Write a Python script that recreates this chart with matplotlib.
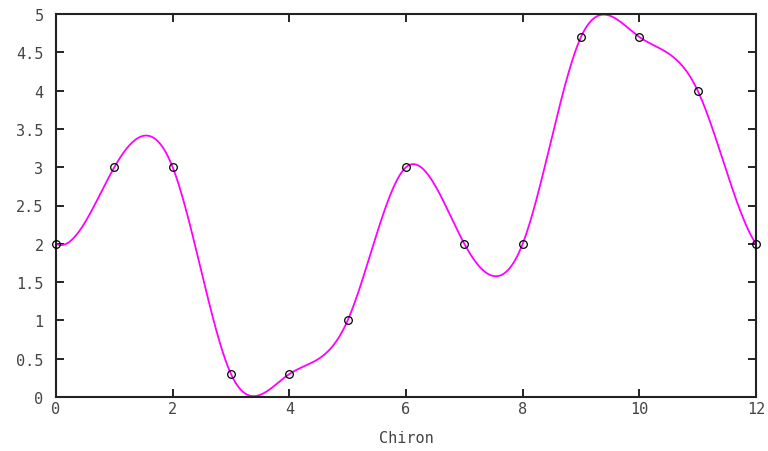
import numpy as np
import matplotlib
matplotlib.use("Agg")
import matplotlib.pyplot as plt

x_vals = [0, 1, 2, 3, 4, 5, 6, 7, 8, 9, 10, 11, 12]
y_vals = [2, 3, 3, 0.3, 0.3, 1, 3, 2, 2, 4.7, 4.7, 4, 2]
x_ticks = [0, 2, 4, 6, 8, 10, 12]
y_ticks = [0, 0.5, 1, 1.5, 2, 2.5, 3, 3.5, 4, 4.5, 5]
y_tick_labels = ["0", "0.5", "1", "1.5", "2", "2.5", "3", "3.5", "4", "4.5", "5"]
x_label = "Chiron"

# end-slope conditions for the smoothing spline (style of the curve)
start_slope = -0.4
end_slope = -1.1


def clamped_spline(x, y, xs, d0, dn):
    x = np.asarray(x, float)
    y = np.asarray(y, float)
    n = len(x)
    h = np.diff(x)
    A = np.zeros((n, n))
    b = np.zeros(n)
    A[0, 0] = 2 * h[0]
    A[0, 1] = h[0]
    b[0] = 3 * ((y[1] - y[0]) / h[0] - d0)
    A[-1, -2] = h[-1]
    A[-1, -1] = 2 * h[-1]
    b[-1] = 3 * (dn - (y[-1] - y[-2]) / h[-1])
    for i in range(1, n - 1):
        A[i, i - 1] = h[i - 1]
        A[i, i] = 2 * (h[i - 1] + h[i])
        A[i, i + 1] = h[i]
        b[i] = 3 * ((y[i + 1] - y[i]) / h[i] - (y[i] - y[i - 1]) / h[i - 1])
    c = np.linalg.solve(A, b)
    idx = np.clip(np.searchsorted(x, xs) - 1, 0, n - 2)
    hi = h[idx]
    bcoef = (y[idx + 1] - y[idx]) / hi - hi * (2 * c[idx] + c[idx + 1]) / 3
    d = (c[idx + 1] - c[idx]) / (3 * hi)
    t = xs - x[idx]
    return y[idx] + bcoef * t + c[idx] * t ** 2 + d * t ** 3


fig = plt.figure(figsize=(7.68, 4.52), dpi=100)
ax = fig.add_axes([56 / 768, 54 / 452, 700 / 768, 383 / 452])

xs = np.linspace(x_vals[0], x_vals[-1], 800)
ax.plot(xs, clamped_spline(x_vals, y_vals, xs, start_slope, end_slope),
        color="#ff00ff", lw=1.3, zorder=2, clip_on=False)
ax.plot(x_vals, y_vals, "o", mfc="none", mec="black", ms=5.5, mew=0.9,
        zorder=3, clip_on=False)

ax.set_xlim(0, 12)
ax.set_ylim(0, 5)
ax.set_xticks(x_ticks)
ax.set_yticks(y_ticks)
ax.set_yticklabels(y_tick_labels)
font = {"family": "DejaVu Sans Mono", "size": 11, "color": "#444444"}
for lab in ax.get_xticklabels() + ax.get_yticklabels():
    lab.set_fontfamily("DejaVu Sans Mono")
    lab.set_fontsize(11)
    lab.set_color("#444444")
ax.tick_params(direction="in", length=6, width=1.2, top=True, right=True, pad=3)
ax.tick_params(axis="y", pad=9)
for s in ax.spines.values():
    s.set_linewidth(1.5)
    s.set_color("#222222")
ax.set_xlabel(x_label, fontdict=font, labelpad=10)

fig.savefig("out.png", dpi=100)
